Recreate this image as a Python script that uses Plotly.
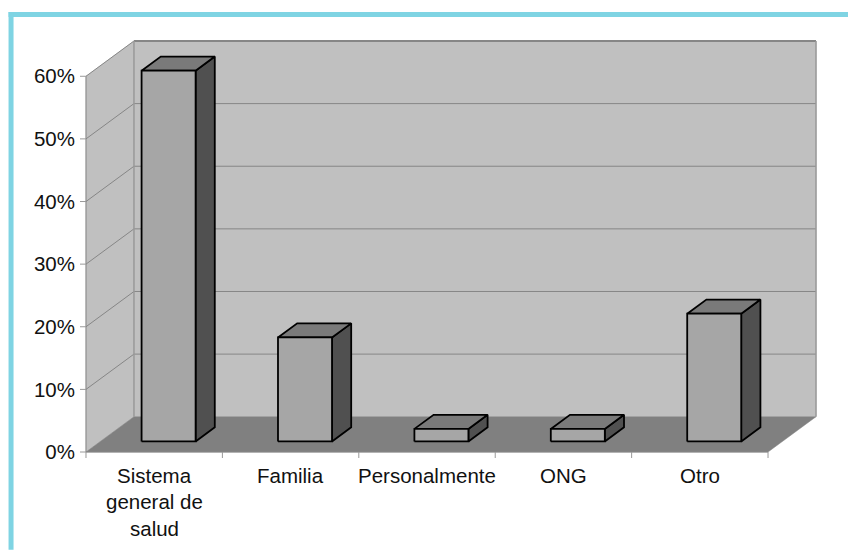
import plotly.graph_objects as go

categories = ["Sistema<br>general de<br>salud", "Familia", "Personalmente", "ONG", "Otro"]
values = [59.2, 16.6, 2.0, 2.0, 20.4]
y_ticks = [0, 10, 20, 30, 40, 50, 60]
y_labels = ["0%", "10%", "20%", "30%", "40%", "50%", "60%"]

W, H = 848, 550
N = len(categories)
YMAX = y_ticks[-1]
PX_CAT = 136.5
PX_VAL = 6.267
X0, Y0 = 85.5, 452.3          # pixel position of the front-bottom-left corner
DEPTH_X, DEPTH_Y = 48.0, 35.3
PAD_L, PAD_R, PAD_T, PAD_B = 8.0, 3.0, 3.0, 8.0
DX = DEPTH_X / PX_CAT
DY = DEPTH_Y / PX_VAL
BAR_L, BAR_R = 0.302, 0.698
D_FRONT, D_BACK = 0.3, 0.7
TICK = 6.0
BAR_LINE = 1.8

L = X0 - PAD_L
R = X0 + N * PX_CAT + DEPTH_X + PAD_R
B = Y0 + PAD_B
T = Y0 - YMAX * PX_VAL - DEPTH_Y - PAD_T

FONT = "Liberation Sans, Arial, sans-serif"
FONT_SIZE = 20.5
WALL, FLOOR, EDGE = "#C0C0C0", "#808080", "#868686"
FRONT, SIDE, TOP = "#A6A6A6", "#505050", "#7A7A7A"


def proj(c, v, d):
    return c + d * DX, v + d * DY


def poly(points, fill, line=None, width=0):
    xs, ys = zip(*(proj(*p) for p in points))
    return go.Scatter(
        x=list(xs) + [xs[0]], y=list(ys) + [ys[0]], mode="lines", fill="toself",
        fillcolor=fill, line=dict(color=line or fill, width=width or 0.5),
        hoverinfo="skip", showlegend=False,
    )


def lines(segments, color, width):
    xs, ys = [], []
    for a, b in segments:
        for p in (a, b):
            x, y = proj(*p)
            xs.append(x)
            ys.append(y)
        xs.append(None)
        ys.append(None)
    return go.Scatter(
        x=xs, y=ys, mode="lines", line=dict(color=color, width=width),
        hoverinfo="skip", showlegend=False,
    )


fig = go.Figure()
# walls and floor
fig.add_trace(poly([(0, 0, 1), (N, 0, 1), (N, YMAX, 1), (0, YMAX, 1)], WALL))
fig.add_trace(poly([(0, 0, 0), (0, 0, 1), (0, YMAX, 1), (0, YMAX, 0)], WALL))
fig.add_trace(poly([(0, 0, 0), (N, 0, 0), (N, 0, 1), (0, 0, 1)], FLOOR))
# gridlines
grid = []
for t in y_ticks[1:-1]:
    grid.append(((0, t, 0), (0, t, 1)))
    grid.append(((0, t, 1), (N, t, 1)))
fig.add_trace(lines(grid, EDGE, 1))
fig.add_trace(lines([((0, YMAX, 0), (0, YMAX, 1))], EDGE, 1))
fig.add_trace(lines([((0, YMAX, 1), (N, YMAX, 1))], EDGE, 2))
fig.add_trace(lines([((0, 0, 1), (0, YMAX, 1)), ((N, 0, 1), (N, YMAX, 1))], "#999999", 1.5))
# front axis lines and tick marks
fig.add_trace(lines([((0, 0, 0), (0, YMAX, 0)), ((0, 0, 0), (N, 0, 0))], EDGE, 1))
marks = [((-TICK / PX_CAT, t, 0), (0, t, 0)) for t in y_ticks]
marks += [((c, -TICK / PX_VAL, 0), (c, 0, 0)) for c in range(N + 1)]
fig.add_trace(lines(marks, "#999999", 1))

# bars
for i, v in enumerate(values):
    a, b = i + BAR_L, i + BAR_R
    fig.add_trace(poly([(b, 0, D_FRONT), (b, 0, D_BACK), (b, v, D_BACK), (b, v, D_FRONT)], SIDE, "black", BAR_LINE))
    fig.add_trace(poly([(a, v, D_FRONT), (b, v, D_FRONT), (b, v, D_BACK), (a, v, D_BACK)], TOP, "black", BAR_LINE))
    fig.add_trace(poly([(a, 0, D_FRONT), (b, 0, D_FRONT), (b, v, D_FRONT), (a, v, D_FRONT)], FRONT, "black", BAR_LINE))

# category labels, one annotation per line so the line spacing can follow the reference
annotations = []
for i, label in enumerate(categories):
    for j, part in enumerate(label.split("<br>")):
        annotations.append(dict(
            x=i + 0.5, xref="x", y=0, yref="paper", yanchor="middle", xanchor="center",
            yshift=-(23 + j * 26.5) + PAD_B, text=part, showarrow=False,
            font=dict(family=FONT, size=FONT_SIZE, color="#111111"),
        ))

# cyan frame
CYAN = "#7FD4E3"
pw, ph = R - L, B - T
def px(x): return (x - L) / pw
def py(y): return (B - y) / ph
frame = [
    dict(type="rect", xref="paper", yref="paper", x0=px(8), x1=px(848), y0=py(12), y1=py(17),
         fillcolor=CYAN, line_width=0, layer="below"),
    dict(type="rect", xref="paper", yref="paper", x0=px(8), x1=px(13), y0=py(12), y1=py(550),
         fillcolor=CYAN, line_width=0, layer="below"),
]

fig.update_layout(
    width=W, height=H, autosize=False,
    margin=dict(l=L, r=W - R, t=T, b=H - B, pad=0),
    paper_bgcolor="white", plot_bgcolor="rgba(0,0,0,0)",
    showlegend=False, annotations=annotations, shapes=frame,
    xaxis=dict(
        range=[-PAD_L / PX_CAT, N + DX + PAD_R / PX_CAT], showticklabels=False, ticks="",
        showgrid=False, zeroline=False, showline=False, fixedrange=True,
    ),
    yaxis=dict(
        range=[-PAD_B / PX_VAL, YMAX + DY + PAD_T / PX_VAL], tickmode="array", tickvals=y_ticks, ticktext=y_labels,
        ticks="", ticklabelstandoff=2,
        tickfont=dict(family=FONT, size=FONT_SIZE, color="#111111"),
        showgrid=False, zeroline=False, showline=False, fixedrange=True,
    ),
)
fig.write_html("out.html", config={"displayModeBar": False},
               post_script="document.body.style.margin='0';document.documentElement.style.overflow='hidden';")
